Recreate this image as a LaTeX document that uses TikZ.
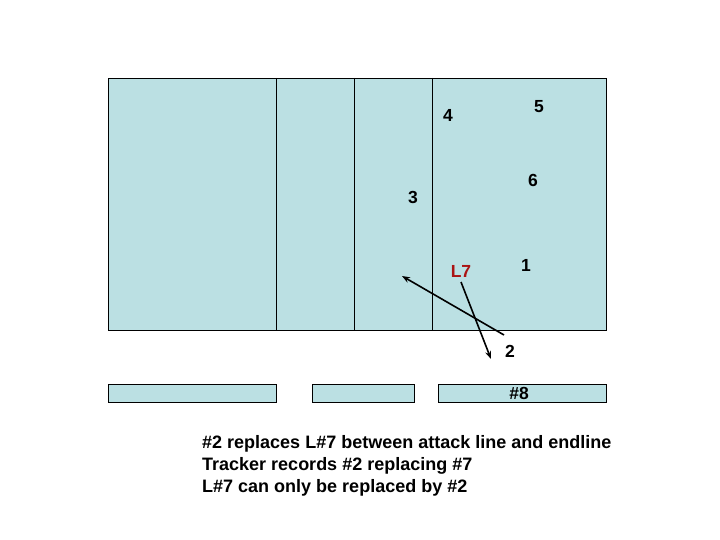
\documentclass[tikz,border=0pt]{standalone}
\usepackage{fontspec}
\setmainfont{Liberation Sans}
\usetikzlibrary{arrows.meta}
\definecolor{court}{RGB}{187,224,227}
\definecolor{lred}{RGB}{170,20,20}
\begin{document}
\begin{tikzpicture}[x=1pt,y=-1pt,
  box/.style={draw=black,fill=court,line width=0.9pt},
  lab/.style={font=\bfseries\fontsize{17.5}{20}\selectfont,inner sep=0pt},
  txt/.style={font=\bfseries\fontsize{18}{22}\selectfont,inner sep=0pt,anchor=west},
  arr/.style={line width=1.6pt,-{Stealth[length=8pt,width=6pt]}}]
\useasboundingbox (0,0) rectangle (720,540);
\draw[box] (108,78) rectangle (606,330);
\draw[line width=0.9pt] (276,78) -- (276,330) (354,78) -- (354,330) (432,78) -- (432,330);
\draw[box] (108,384) rectangle (276,402);
\draw[box] (312,384) rectangle (414,402);
\draw[box] (438,384) rectangle (606,402);
\node[lab] (n8) at (519,393) {\#8};
\node[lab] (n4) at (448,115) {4};
\node[lab] (n5) at (539,107) {5};
\node[lab] (n6) at (533,180) {6};
\node[lab] (n3) at (413,197) {3};
\node[lab,text=lred] (l7) at (461,271) {L7};
\node[lab] (n1) at (526,265) {1};
\node[lab] (n2) at (510,351) {2};
\coordinate (a1s) at (504,335);
\coordinate (a1e) at (402,276);
\coordinate (a2s) at (461,282);
\coordinate (a2e) at (491,359);
\draw[arr] (a1s) -- (a1e);
\draw[arr] (a2s) -- (a2e);
\node[txt] (t1) at (202,444) {\#2 replaces L\#7 between attack line and endline};
\node[txt] (t2) at (202,466) {Tracker records \#2 replacing \#7};
\node[txt] (t3) at (202,488) {L\#7 can only be replaced by \#2};
\end{tikzpicture}
\end{document}
